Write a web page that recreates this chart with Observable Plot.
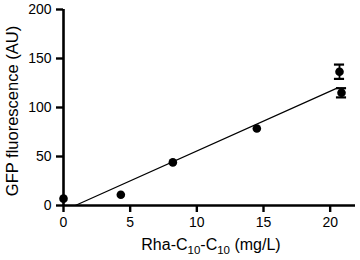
<!DOCTYPE html>
<html><head><meta charset="utf-8">
<script src="https://cdn.jsdelivr.net/npm/d3@7"></script>
<script src="https://cdn.jsdelivr.net/npm/@observablehq/plot@0.6"></script>
<style>body{margin:0;background:#fff}</style>
</head><body><div id="chart"></div>
<script>
// Data
const concentration = [0, 4.3, 8.2, 14.5, 20.7, 20.85];   // Rha-C10-C10 (mg/L)
const fluorescence = [7, 11, 44, 78.5, 136.5, 115];        // GFP fluorescence (AU)
const errorSD = [0, 0, 0, 0, 7.3, 4.7];
const xTicks = [0, 5, 10, 15, 20];
const yTicks = [0, 50, 100, 150, 200];
const fitSlope = 6.1;
const fitIntercept = -5.4;
const fitXEnd = 20.6;

const points = concentration.map((x, i) => ({x, y: fluorescence[i], e: errorSD[i]}));
const errPoints = points.filter(d => d.e > 0);
const fitLine = [-fitIntercept / fitSlope, fitXEnd].map(x => ({x, y: fitSlope * x + fitIntercept}));
const capHalf = 0.38;

const font = "'Liberation Sans', Arial, sans-serif";
const chart = Plot.plot({
  width: 360, height: 260,
  marginLeft: 63, marginRight: 5, marginTop: 9, marginBottom: 55,
  style: {fontFamily: font, fontSize: "14px", color: "black", background: "white"},
  x: {domain: [0, 21.9]},
  y: {domain: [0, 200]},
  marks: [
    Plot.axisY({ticks: yTicks, tickSize: 7, tickPadding: 5, strokeWidth: 2.4, label: null}),
    Plot.axisX({ticks: xTicks, tickSize: 7, tickPadding: 5, strokeWidth: 2.4, label: null}),
    Plot.ruleY([0], {stroke: "black", strokeWidth: 2.6}),
    Plot.ruleX([0], {stroke: "black", strokeWidth: 2.6}),
    Plot.line(fitLine, {x: "x", y: "y", stroke: "black", strokeWidth: 1.2}),
    Plot.ruleX(errPoints, {x: "x", y1: d => d.y - d.e, y2: d => d.y + d.e, stroke: "black", strokeWidth: 1.8}),
    Plot.ruleY(errPoints, {y: d => d.y - d.e, x1: d => d.x - capHalf, x2: d => d.x + capHalf, stroke: "black", strokeWidth: 2.2}),
    Plot.ruleY(errPoints, {y: d => d.y + d.e, x1: d => d.x - capHalf, x2: d => d.x + capHalf, stroke: "black", strokeWidth: 2.2}),
    Plot.dot(points, {x: "x", y: "y", r: 4.3, fill: "black", stroke: "none"})
  ]
});

const svg = d3.select(chart);
svg.append("text")
  .attr("transform", "translate(18,111) rotate(-90)")
  .attr("text-anchor", "middle")
  .attr("font-family", font).attr("font-size", 16.5).attr("fill", "black")
  .text("GFP fluorescence (AU)");
const xl = svg.append("text")
  .attr("x", 211).attr("y", 250)
  .attr("text-anchor", "middle")
  .attr("font-family", font).attr("font-size", 16).attr("fill", "black");
xl.append("tspan").text("Rha-C");
xl.append("tspan").attr("dy", 4).attr("font-size", 11.5).text("10");
xl.append("tspan").attr("dy", -4).text("-C");
xl.append("tspan").attr("dy", 4).attr("font-size", 11.5).text("10");
xl.append("tspan").attr("dy", -4).text(" (mg/L)");

document.getElementById("chart").appendChild(chart);
</script>
</body></html>
